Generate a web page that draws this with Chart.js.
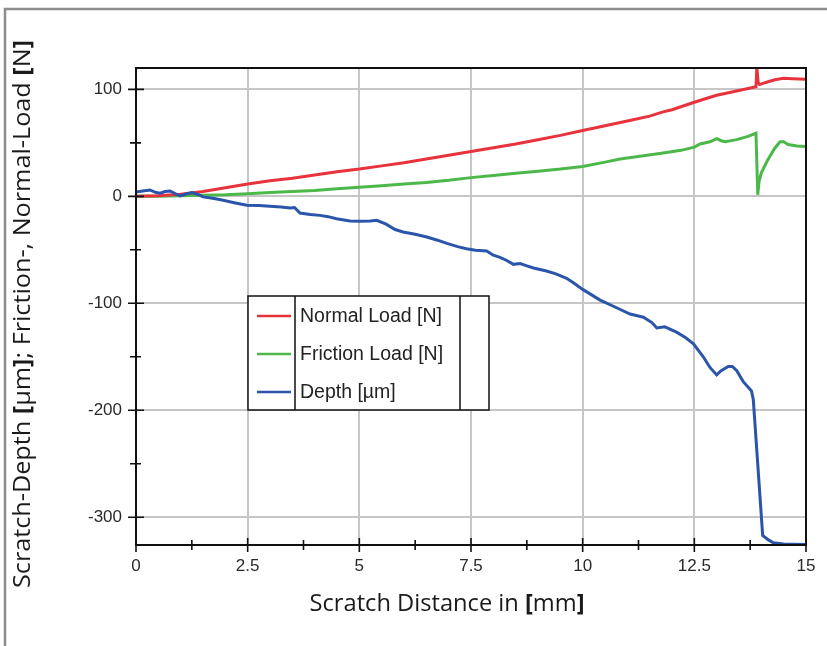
<!DOCTYPE html>
<html>
<head>
<meta charset="utf-8">
<script src="https://cdn.jsdelivr.net/npm/chart.js@4/dist/chart.umd.min.js"></script>
<style>
  html, body { margin: 0; padding: 0; background: #ffffff; }
  #wrap { width: 827px; height: 646px; position: relative; }
</style>
</head>
<body>
<div id="wrap"><canvas id="c" width="827" height="646"></canvas></div>
<script>
// Scratch test: normal load, friction load and scratch depth along the scratch path

const normalDist = [0, 0.5, 1, 1.5, 2, 2.5, 3, 3.5, 4, 4.5, 5, 5.5, 6, 6.5, 7, 7.5, 8, 8.5, 9, 9.5, 10, 10.5, 11, 11.5, 11.8, 12, 12.5, 12.8, 13, 13.5, 13.88, 13.9, 13.93, 13.96, 14.1, 14.3, 14.5, 14.7, 15];
const normalLoad = [0, 0.5, 2, 4.5, 8, 11.5, 14.5, 17, 20, 23, 25.5, 28.5, 31.5, 35, 38.5, 42, 45.5, 49, 53, 57, 61.5, 66, 70.5, 75, 79, 81, 88, 92, 94.5, 99, 102.5, 120, 106, 104.5, 106.5, 109, 110.5, 110, 109.5];

const frictionDist = [0, 0.5, 1, 1.5, 2, 2.5, 3, 3.5, 4, 4.5, 5, 5.5, 6, 6.5, 7, 7.5, 8, 8.5, 9, 9.5, 10, 10.5, 10.84, 11.2, 11.8, 12.2, 12.5, 12.63, 12.85, 13.0, 13.1, 13.19, 13.45, 13.7, 13.88, 13.92, 13.95, 14.0, 14.13, 14.3, 14.42, 14.5, 14.6, 14.8, 15];
const frictionLoad = [0, 0, 0.5, 1, 1.5, 2.5, 3.5, 4.5, 5.5, 7, 8.5, 10, 11.5, 13, 15, 17.5, 19.5, 21.5, 23.5, 25.5, 28, 32, 35, 37, 40.5, 43, 46, 49, 51, 54, 52, 51, 53, 56, 59, 1.5, 14, 22, 33, 45, 51, 51, 48.5, 47, 46.5];

const depthDist = [0, 0.15, 0.31, 0.45, 0.54, 0.65, 0.76, 0.9, 0.99, 1.1, 1.25, 1.4, 1.5, 1.75, 1.95, 2.2, 2.48, 2.75, 3.0, 3.25, 3.45, 3.55, 3.67, 3.9, 4.12, 4.3, 4.49, 4.79, 5.01, 5.24, 5.39, 5.6, 5.8, 5.98, 6.25, 6.51, 6.75, 6.96, 7.2, 7.4, 7.6, 7.85, 8.0, 8.15, 8.3, 8.45, 8.6, 8.75, 8.9, 9.19, 9.4, 9.64, 9.8, 10.0, 10.39, 10.7, 11.06, 11.36, 11.55, 11.66, 11.84, 12.1, 12.3, 12.48, 12.7, 12.85, 13.0, 13.1, 13.26, 13.35, 13.45, 13.6, 13.78, 13.82, 14.03, 14.15, 14.27, 14.5, 15];
const depth = [4, 5, 6, 3.5, 3, 4.5, 5, 2, 0.5, 2, 3.5, 1.5, -0.5, -2, -3.7, -6, -8.4, -8.5, -9.3, -10, -11, -10.5, -15.6, -17, -17.8, -19, -21, -23, -23.4, -23, -22.4, -26, -31, -33.3, -35.5, -38, -41, -44, -47, -49, -50.5, -51, -55, -57, -60, -63.6, -62.9, -65, -67, -69.8, -72.5, -76.6, -81, -87, -97, -103, -110, -113, -118, -123, -122, -127, -132, -138, -150, -160, -167, -163, -159, -159, -163, -173.5, -182, -190, -317, -321, -324, -325, -325.5];

const xTicks = [0, 1.25, 2.5, 3.75, 5, 6.25, 7.5, 8.75, 10, 11.25, 12.5, 13.75, 15];
const xLabelled = [0, 2.5, 5, 7.5, 10, 12.5, 15];
const yTicks = [-300, -250, -200, -150, -100, -50, 0, 50, 100];
const yLabelled = [-300, -200, -100, 0, 100];

const seriesNames = ['Normal Load [N]', 'Friction Load [N]', 'Depth [µm]'];
const seriesColors = ['#e8323c', '#4cb84a', '#2a55aa'];

const pairs = (xs, ys) => xs.map((x, i) => ({ x: x, y: ys[i] }));

const LABEL_FAMILY = '"Liberation Sans", Arial, sans-serif';
const TITLE_FAMILY = '"Open Sans", "Noto Sans", sans-serif';

// Draws plain and bold runs centred on the current origin, fitted to a given width
function drawRuns(ctx, runs, size, fitWidth) {
  const fontOf = r => (r.bold ? '700 ' : '400 ') + size + 'px ' + TITLE_FAMILY;
  let total = 0;
  const widths = runs.map(r => {
    ctx.font = fontOf(r);
    const w = ctx.measureText(r.text).width;
    total += w;
    return w;
  });
  ctx.scale(fitWidth / total, 1);
  let x = -total / 2;
  runs.forEach((r, i) => {
    ctx.font = fontOf(r);
    ctx.fillText(r.text, x, 0);
    x += widths[i];
  });
}

const framePlugin = {
  id: 'frame',
  beforeDraw(chart) {
    const ctx = chart.ctx;
    ctx.save();
    ctx.fillStyle = '#ffffff';
    ctx.fillRect(0, 0, chart.width, chart.height);
    ctx.strokeStyle = '#8c8c8c';
    ctx.lineWidth = 2.5;
    ctx.beginPath();
    ctx.moveTo(5, chart.height + 5);
    ctx.lineTo(5, 9);
    ctx.lineTo(chart.width + 5, 9);
    ctx.stroke();
    ctx.restore();
  },
  afterDraw(chart) {
    const ctx = chart.ctx;
    const area = chart.chartArea;
    const xs = chart.scales.x, ys = chart.scales.y;
    ctx.save();
    // plot border
    ctx.strokeStyle = '#111111';
    ctx.lineWidth = 2;
    ctx.strokeRect(area.left, area.top, area.right - area.left, area.bottom - area.top);

    // tick marks crossing the axis lines
    ctx.lineWidth = 1.6;
    ctx.beginPath();
    xTicks.forEach(v => {
      const px = xs.getPixelForValue(v);
      const h = xLabelled.includes(v) ? 7 : 5;
      ctx.moveTo(px, area.bottom - h);
      ctx.lineTo(px, area.bottom + h);
    });
    yTicks.forEach(v => {
      const py = ys.getPixelForValue(v);
      const h = yLabelled.includes(v) ? 8 : 6;
      ctx.moveTo(area.left - h, py);
      ctx.lineTo(area.left + (yLabelled.includes(v) ? 8 : 5), py);
    });
    ctx.stroke();

    // axis titles
    ctx.fillStyle = '#1a1a1a';
    ctx.textBaseline = 'middle';
    ctx.textAlign = 'left';
    ctx.save();
    ctx.translate(447, 604);
    drawRuns(ctx, [
      { text: 'Scratch Distance in ', bold: false },
      { text: '[', bold: true }, { text: 'mm', bold: false }, { text: ']', bold: true }
    ], 24, 275);
    ctx.restore();

    ctx.save();
    ctx.translate(23, 314);
    ctx.rotate(-Math.PI / 2);
    drawRuns(ctx, [
      { text: 'Scratch-Depth ', bold: false },
      { text: '[', bold: true }, { text: 'µm', bold: false }, { text: ']', bold: true },
      { text: '; Friction-, Normal-Load ', bold: false },
      { text: '[', bold: true }, { text: 'N', bold: false }, { text: ']', bold: true }
    ], 24, 548);
    ctx.restore();

    // boxed legend
    const bx = 248, by = 296, bw = 241, bh = 114;
    ctx.fillStyle = '#ffffff';
    ctx.fillRect(bx, by, bw, bh);
    ctx.strokeStyle = '#111111';
    ctx.lineWidth = 1.5;
    ctx.strokeRect(bx, by, bw, bh);
    ctx.beginPath();
    ctx.moveTo(295, by); ctx.lineTo(295, by + bh);
    ctx.moveTo(460, by); ctx.lineTo(460, by + bh);
    ctx.stroke();
    ctx.font = '19.5px ' + LABEL_FAMILY;
    ctx.textAlign = 'left';
    ctx.textBaseline = 'middle';
    chart.data.datasets.forEach((ds, i) => {
      const y = 316 + i * 38;
      ctx.strokeStyle = ds.borderColor;
      ctx.lineWidth = 2.5;
      ctx.beginPath();
      ctx.moveTo(257, y); ctx.lineTo(291, y);
      ctx.stroke();
      ctx.fillStyle = '#222222';
      ctx.fillText(ds.label, 300, y + 1);
    });
    ctx.restore();
  }
};

const lineSet = (i, xs, ys, order) => ({
  label: seriesNames[i],
  data: pairs(xs, ys),
  borderColor: seriesColors[i],
  backgroundColor: seriesColors[i],
  borderWidth: 3,
  pointRadius: 0,
  tension: 0,
  order: order
});

new Chart(document.getElementById('c'), {
  type: 'line',
  data: {
    datasets: [
      lineSet(0, normalDist, normalLoad, 1),
      lineSet(1, frictionDist, frictionLoad, 2),
      lineSet(2, depthDist, depth, 0)
    ]
  },
  options: {
    responsive: false,
    animation: false,
    layout: { padding: { left: 0, right: 21, top: 68, bottom: 0 } },
    plugins: { legend: { display: false }, tooltip: { enabled: false } },
    scales: {
      x: {
        type: 'linear',
        min: 0,
        max: 15,
        afterBuildTicks: s => { s.ticks = xTicks.map(v => ({ value: v })); },
        afterFit: s => { s.height = 101; },
        border: { display: false },
        grid: {
          color: c => (c.tick && xLabelled.includes(c.tick.value) && c.tick.value > 0 && c.tick.value < 15) ? '#c6c6c6' : 'rgba(0,0,0,0)',
          lineWidth: 2,
          tickColor: 'rgba(0,0,0,0)',
          tickLength: 8
        },
        ticks: {
          autoSkip: false,
          maxRotation: 0,
          padding: 3,
          color: '#2a2a2a',
          font: { family: LABEL_FAMILY, size: 17 },
          callback: v => xLabelled.includes(v) ? String(v) : ''
        }
      },
      y: {
        type: 'linear',
        min: -326,
        max: 120,
        afterBuildTicks: s => { s.ticks = yTicks.map(v => ({ value: v })); },
        afterFit: s => { s.width = 136; },
        border: { display: false },
        grid: {
          color: c => (c.tick && yLabelled.includes(c.tick.value)) ? '#c6c6c6' : 'rgba(0,0,0,0)',
          lineWidth: 2,
          tickColor: 'rgba(0,0,0,0)',
          tickLength: 8
        },
        ticks: {
          autoSkip: false,
          padding: 6,
          color: '#2a2a2a',
          font: { family: LABEL_FAMILY, size: 17 },
          callback: v => yLabelled.includes(v) ? String(v) : ''
        }
      }
    }
  },
  plugins: [framePlugin]
});
</script>
</body>
</html>
